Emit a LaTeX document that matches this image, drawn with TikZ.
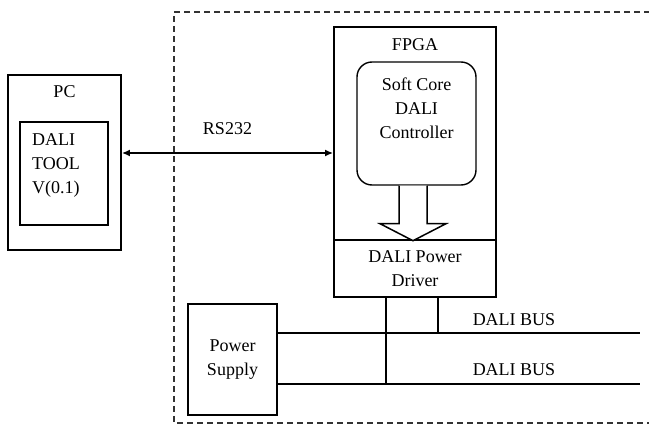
\documentclass[tikz,border=0pt]{standalone}
\usepackage{fontspec}
\setmainfont{Liberation Serif}
\usetikzlibrary{arrows.meta,calc}

\begin{document}
\begin{tikzpicture}[
		x=1pt,
		y=-1pt,
		font=\fontsize{18}{24}\selectfont,
		>={Latex[length=8pt,width=7pt]},
		box/.style={draw, line width=1.8pt, inner sep=0pt},
		txt/.style={align=center, inner sep=0pt},
		bus/.style={line width=1.8pt}
		]
		
		\useasboundingbox (0,0) rectangle (649,425);
		
		% dashed frame
		\draw[gray!40!black, line width=1.1pt, dash pattern=on 6pt off 4pt]
		(660,12) -- (174,12) -- (174,423) -- (660,423);
		
		% PC
		\node[box, minimum width=113pt, minimum height=175pt] (pc) at (64.5,162.5) {};
		\node[txt] (pclabel) at (64.5,92) {PC};
		\node[box, minimum width=88pt, minimum height=103pt] (tool) at (64,173.5) {};
		\node[txt, align=left, anchor=west] (tooltxt) at (32,165) {DALI\\TOOL\\V(0.1)};
		
		% FPGA
		\node[box, minimum width=162pt, minimum height=270pt] (fpga) at (415,162) {};
		\node[txt] (fpgalabel) at (415,45) {FPGA};
		\node[box, line width=1.4pt, rounded corners=15pt, minimum width=119pt, minimum height=123pt] (core) at (416.5,123.5) {};
		\node[txt] (coretxt) at (416.5,108) {Soft Core\\DALI\\Controller};
		\node[box, align=center, fill=white, minimum width=162pt, minimum height=57pt] (driver) at (415,268.5) {DALI Power\\Driver};
		
		% block arrow
		\draw[line width=1.5pt, fill=white] (core.south) ++(-17.5,0) -- ++(0,38) -- ++(-19,0)
		-- ++(33,17) -- ++(33,-17) -- ++(-19,0) -- ++(0,-38);
		
		% RS232 link
		\coordinate (rsy) at (0,153);
		\draw[<->, line width=1.8pt] (pc.east |- rsy) -- (fpga.west |- rsy)
		node[txt, midway, above=17pt] (rs) {RS232};
		
		% power supply and bus
		\node[box, align=center, minimum width=89pt, minimum height=111pt] (psu) at (232.5,359.5) {Power\\Supply};
		\coordinate (bus1) at (640,333);
		\coordinate (bus2) at (640,384);
		\draw[bus] (psu.east |- bus1) -- (bus1);
		\draw[bus] (psu.east |- bus2) -- (bus2);
		\coordinate (tapa) at (386,384);
		\coordinate (tapb) at (438,333);
		\draw[bus] (driver.south -| tapa) -- (tapa);
		\draw[line width=1.3pt] (driver.south -| tapb) -- (tapb);
		\node[txt] (buslabel1) at (514,320) {DALI BUS};
		\node[txt] (buslabel2) at (514,370) {DALI BUS};
		
	\end{tikzpicture}
\end{document}
